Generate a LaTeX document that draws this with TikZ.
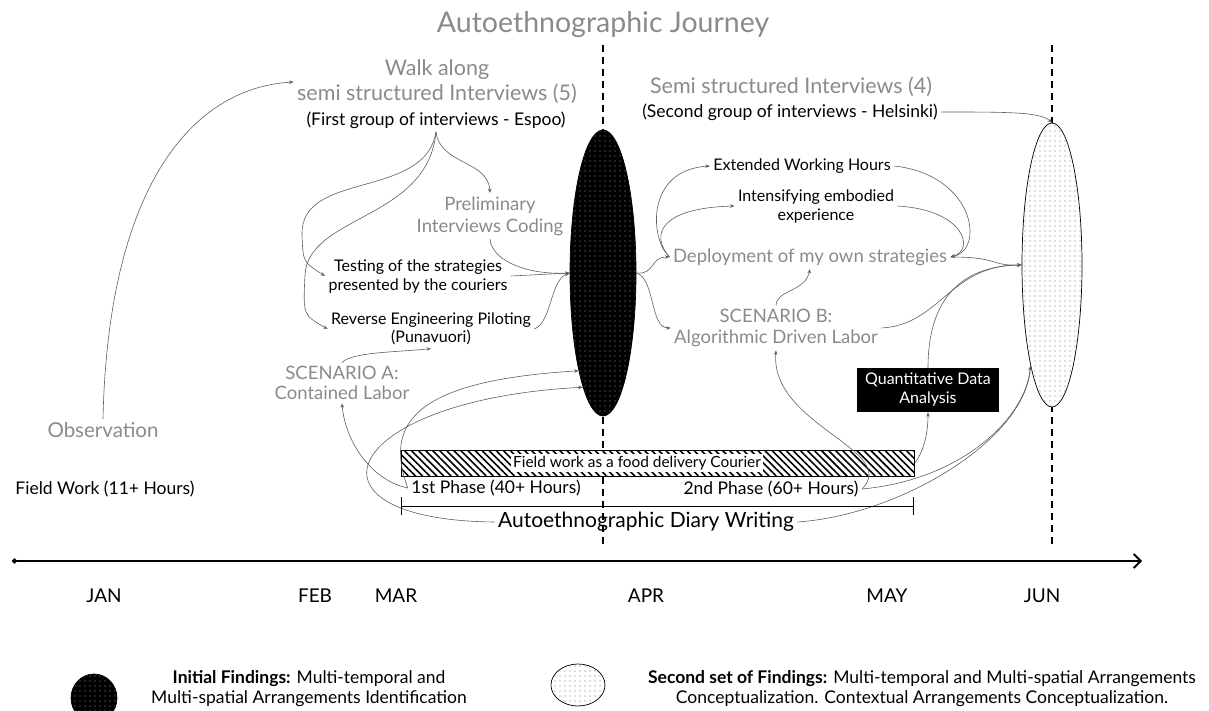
\documentclass[tikz,border=0pt]{standalone}
\usepackage{fontspec}
\setmainfont{Lato}
\usetikzlibrary{arrows.meta,patterns.meta,shapes.geometric}
\definecolor{txtgray}{HTML}{8A8A8A}
\definecolor{linegray}{HTML}{5E5E5E}
\tikzset{
  big/.style={text=txtgray, font=\fontsize{21.5}{25}\selectfont, align=center},
  mid/.style={text=txtgray, font=\fontsize{18.5}{21}\selectfont, align=center},
  sub/.style={font=\fontsize{17.5}{20}\selectfont, align=center},
  note/.style={font=\fontsize{16}{19}\selectfont, align=center},
  month/.style={font=\fontsize{19}{22}\selectfont},
  flow/.style={draw=linegray, line width=0.6pt, -{Stealth[length=4.5pt,width=3.5pt]}},
  finding/.style={ellipse, draw, line width=0.7pt, inner sep=0pt},
  darkdots/.style={preaction={fill=black}, pattern={Dots[distance=5pt,radius=0.6pt]}, pattern color=white!60!black},
  lightdots/.style={preaction={fill=white}, pattern={Dots[distance=5pt,radius=0.6pt]}, pattern color=black!55},
}
\begin{document}
\begin{tikzpicture}[x=1pt,y=-1pt]
    \useasboundingbox (0,0) rectangle (1209,711);
    \coordinate (aprtop) at (603,45);
    \coordinate (aprbot) at (603,545);
    \coordinate (juntop) at (1052,45);
    \coordinate (junbot) at (1052,545);
    \draw[line width=1.5pt, dash pattern=on 7pt off 5pt] (aprtop) -- (aprbot);
    \draw[line width=1.5pt, dash pattern=on 7pt off 5pt] (juntop) -- (junbot);

    \node[text=txtgray, font=\fontsize{28.5}{32}\selectfont] (title) at (603,25) {Autoethnographic Journey};
    \node[big] (walk) at (437,82) {Walk along\\semi structured Interviews (5)};
    \node[sub] (espoo) at (436,120) {(First group of interviews - Espoo)};
    \node[mid, font=\fontsize{18.5}{22}\selectfont] (prelim) at (490,216) {Preliminary\\Interviews Coding};
    \node[note] (testing) at (418,276) {Testing of the strategies\\presented by the couriers};
    \node[note, font=\fontsize{16}{18}\selectfont] (reverse) at (431,329) {Reverse Engineering Piloting\\(Punavuori)};
    \node[mid, font=\fontsize{18.5}{20}\selectfont] (scena) at (342,383) {SCENARIO A:\\Contained Labor};
    \node[big, font=\fontsize{20.5}{24}\selectfont] (obs) at (103,430) {Observation};
    \node[sub] (fieldwork) at (105,489) {Field Work (11+ Hours)};

    \node[finding, darkdots, minimum width=66, minimum height=286] (first) at (603,273) {};

    \node[draw, line width=0.7pt, inner sep=0pt, minimum width=513, minimum height=26,
          preaction={fill=white}, pattern={Lines[angle=-45,distance=5pt,line width=1.6pt]}] (bar) at (657.5,463) {};
    \node[fill=white, inner sep=2pt, font=\fontsize{15.4}{17}\selectfont] (barlabel) at (637,463) {Field work as a food delivery Courier};
    \node[sub] (phase1) at (496,488) {1st Phase (40+ Hours)};
    \node[sub] (phase2) at (771,489) {2nd Phase (60+ Hours)};
    \node[font=\fontsize{21}{24}\selectfont] (diary) at (646,522) {Autoethnographic Diary Writing};
    \coordinate (brackl) at (401,506);
    \coordinate (brackr) at (914,506);

    \node[big] (semifour) at (791,87) {Semi structured Interviews (4)};
    \node[sub] (helsinki) at (790,112) {(Second group of interviews - Helsinki)};
    \node[note] (extended) at (802,166) {Extended Working Hours};
    \node[note] (intens) at (816,206) {Intensifying embodied\\experience};
    \node[mid] (deploy) at (810,257) {Deployment of my own strategies};
    \node[mid] (scenb) at (776,328) {SCENARIO B:\\Algorithmic Driven Labor};
    \node[note, fill=black, text=white, minimum width=142, minimum height=44] (quant) at (928,390) {Quantitative Data\\Analysis};

    \node[finding, lightdots, minimum width=60, minimum height=284] (second) at (1052,265) {};

    \coordinate (axisstart) at (12,561);
    \coordinate (axisend) at (1142,561);
    \node[month] (jan) at (104,596) {JAN};
    \node[month] (feb) at (315,596) {FEB};
    \node[month] (mar) at (396,596) {MAR};
    \node[month] (apr) at (646,596) {APR};
    \node[month] (may) at (887,596) {MAY};
    \node[month] (jun) at (1042,596) {JUN};

    \node[finding, darkdots, minimum width=46, minimum height=48] (legendfirst) at (94,698) {};
    \node[sub] (legendfirsttext) at (309,689) {\textbf{Initial Findings:} Multi-temporal and\\Multi-spatial Arrangements Identification};
    \node[finding, lightdots, minimum width=54, minimum height=42] (legendsecond) at (578,685) {};
    \node[sub] (legendsecondtext) at (922,689) {\textbf{Second set of Findings:} Multi-temporal and Multi-spatial Arrangements\\Conceptualization. Contextual Arrangements Conceptualization.};

    %%%%%%%%%%%%%%%%%%%%%%%%%%%%%%%%%%%%%%%%

    \draw[flow] (obs.north) .. controls (108,190) and (190,88) .. (walk.west);
    \draw[flow] (espoo.south) .. controls (440,165) and (488,160) .. (prelim.north);
    \draw[flow] (espoo.south) .. controls (425,200) and (300,170) .. (302,235) .. controls (303,262) .. (testing.west);
    \draw[flow] (espoo.south) .. controls (428,220) and (308,215) .. (305,275) .. controls (303,315) .. (reverse.west);
    \draw[flow] (prelim.south) .. controls (492,262) and (530,275) .. (first.west);
    \draw[flow] (testing.east) -- (first.west);
    \draw[flow] (reverse.east) .. controls (552,322) and (550,280) .. (first.west);
    \draw[flow] (scena.north) .. controls (350,352) and (400,352) .. (reverse.south);

    \draw[flow] (phase1.west) .. controls (370,480) and (345,440) .. (scena.south);
    \draw[flow] (phase1.west) .. controls (380,415) and (430,380) .. (first.256);
    \draw[flow] (diary.west) .. controls (290,520) and (340,400) .. (first.260);

    \draw[flow] (first.east) .. controls (655,275) and (650,257) .. (deploy.west);
    \draw[flow] (first.east) .. controls (655,278) and (650,328) .. (scenb.west);
    \draw[flow] (deploy.west) .. controls (650,240) and (645,170) .. (extended.west);
    \draw[flow] (deploy.west) .. controls (650,235) and (660,208) .. (intens.west);
    \draw[flow] (extended.east) .. controls (975,175) and (985,250) .. (deploy.east);
    \draw[flow] (intens.east) .. controls (965,210) and (975,250) .. (deploy.east);
    \draw[flow] (deploy.east) .. controls (1000,257) and (990,266) .. (second.west);
    \draw[flow] (scenb.north) .. controls (776,290) and (805,292) .. (deploy.south);
    \draw[flow] (scenb.east) .. controls (940,325) and (950,265) .. (second.west);
    \draw[flow] (quant.north) .. controls (928,300) and (960,266) .. (second.west);
    \draw[flow] (helsinki.east) .. controls (1010,112) and (1040,112) .. (second.north);

    \draw[flow] (phase2.east) .. controls (900,450) and (770,425) .. (scenb.south);
    \draw[flow] (bar.east) .. controls (925,450) and (928,430) .. (quant.south);
    \draw[flow] (phase2.east) .. controls (960,480) and (1025,420) .. (second.258);
    \draw[flow] (diary.east) .. controls (900,515) and (1025,440) .. (second.258);

    \draw[line width=0.8pt, {Bar[width=18pt]}-{Bar[width=18pt]}] (brackl) -- (brackr);
    \draw[line width=1.8pt, {Circle[length=5pt]}-{Straight Barb[length=7pt]}] (axisstart) -- (axisend);

\end{tikzpicture}
\end{document}
